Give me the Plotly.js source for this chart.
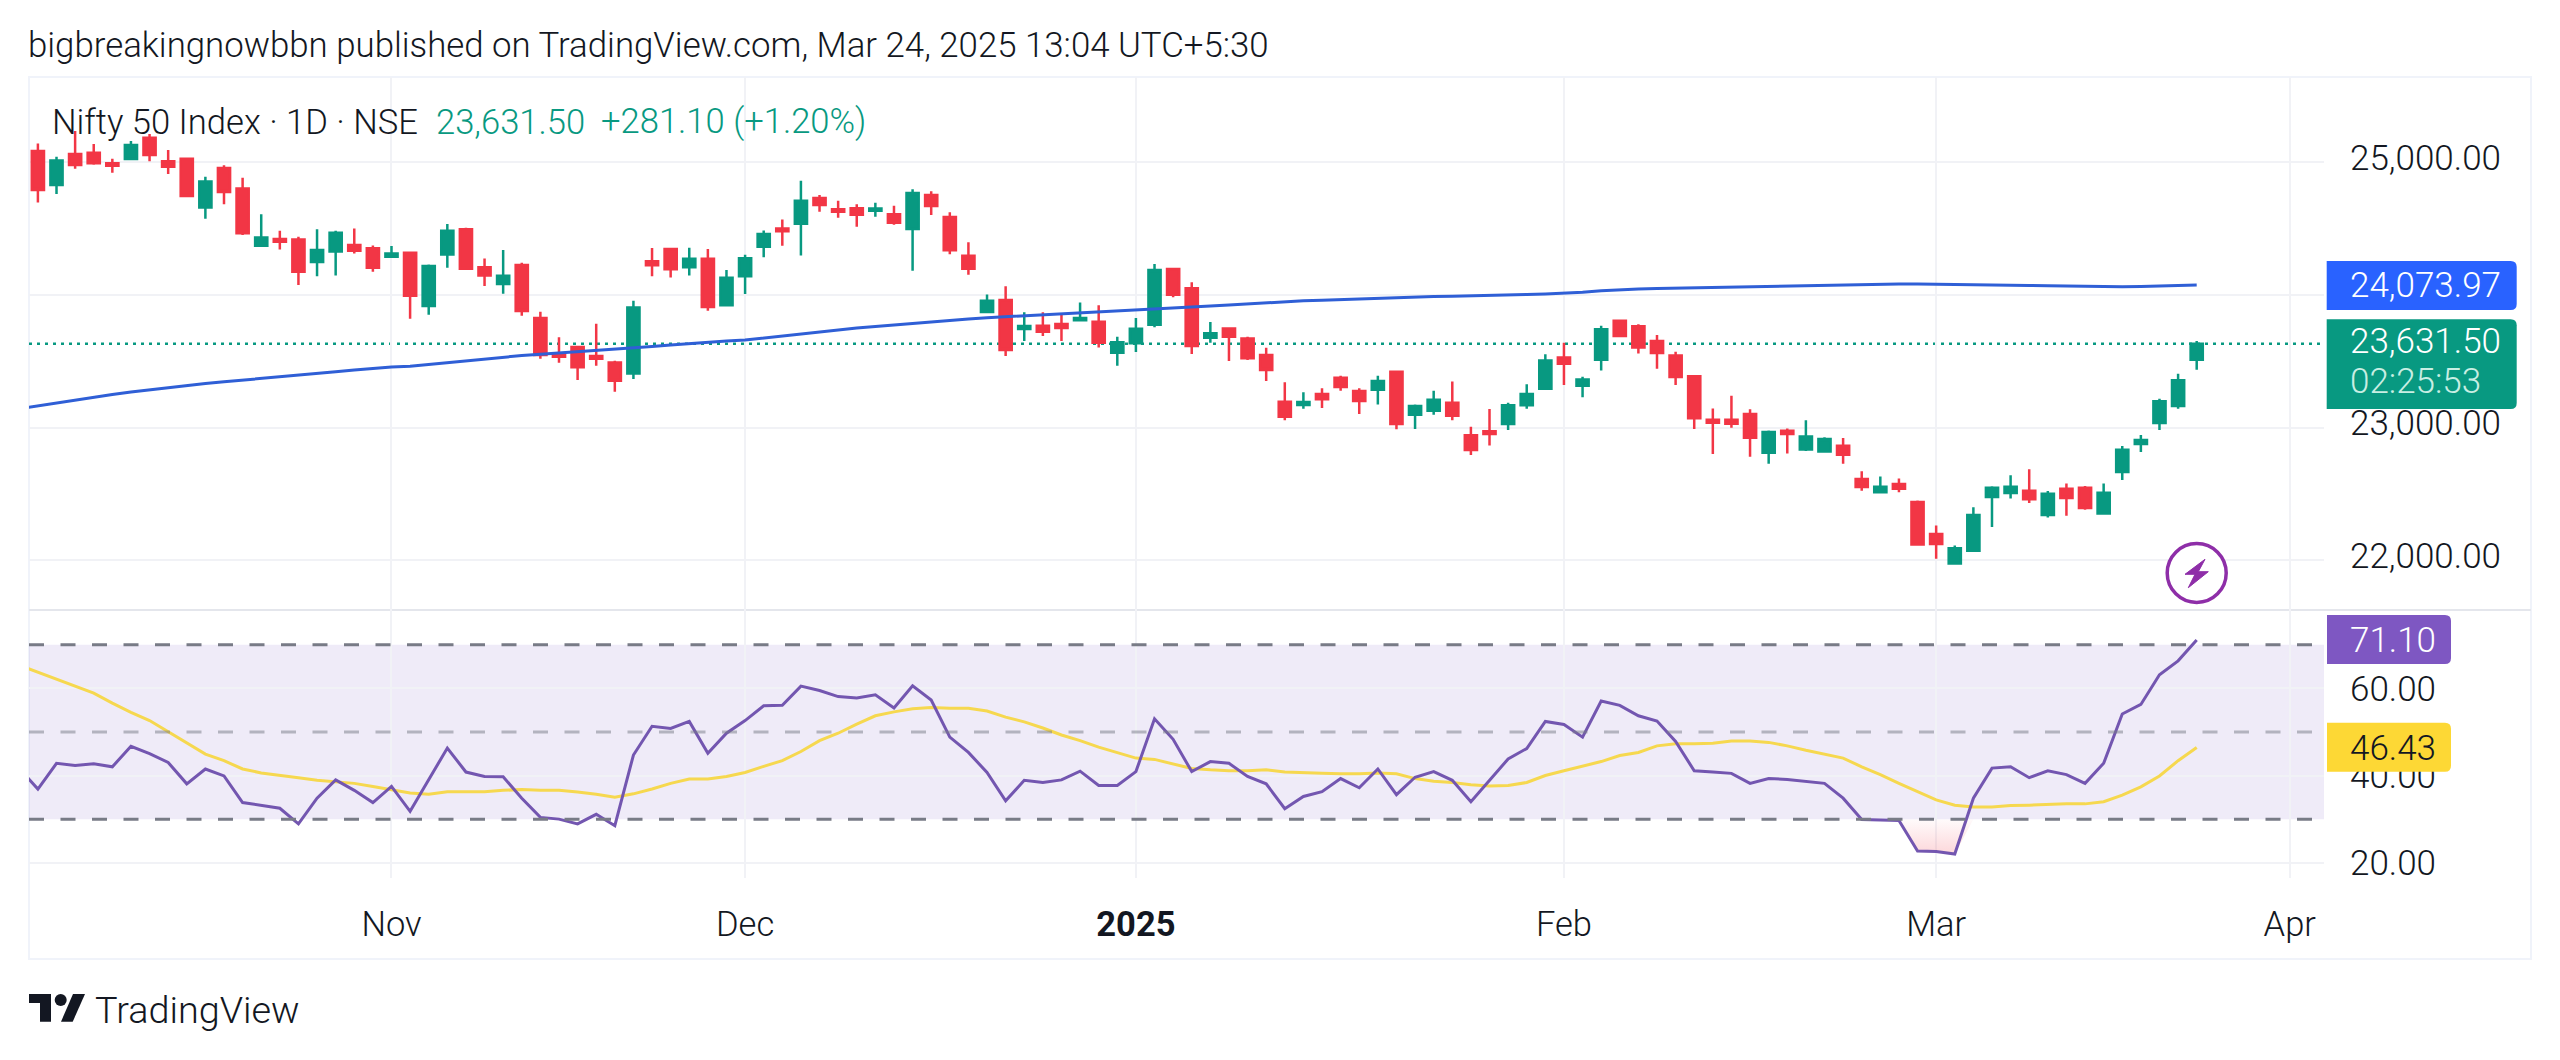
<!DOCTYPE html>
<html>
<head>
<meta charset="utf-8">
<script src="https://cdn.plot.ly/plotly-3.0.1.min.js"></script>
<style>html,body{margin:0;padding:0;background:#fff}#chart{width:2560px;height:1060px}</style>
</head>
<body>
<div id="chart"></div>
<script>
// ---- Data (one value per daily candle) ----
const openVals = [25083,24827,25060,25070,24990,25022,25183,25005,25025,24658,24955,24801,24370,24420,24417,24247,24327,24375,24350,24287,24317,23915,24304,24493,24207,24081,24224,23825,23559,23607,23539,23491,23408,24252,24345,24207,24272,23921,24139,24362,24500,24536,24729,24644,24651,24633,24606,24495,24751,24586,24295,23870,23961,23742,23768,23780,23808,23798,23564,23635,23775,24194,24049,23677,23747,23672,23547,23195,23170,23253,23376,23276,23286,23421,23097,23127,23188,22942,22972,23027,23168,23293,23529,23316,23512,23805,23763,23652,23544,23386,23060,23060,23102,22811,22977,22836,22821,22864,22613,22513,22575,22440,22199,21978,22073,22477,22508,22525,22342,22540,22548,22354,22666,22876,23035,23163,23512];
const highVals = [25140,25040,25233,25135,25025,25158,25211,25090,25027,24889,24975,24882,24606,24483,24437,24493,24483,24500,24372,24367,24317,24229,24533,24505,24274,24337,24242,23873,23680,23609,23782,23504,23956,24352,24347,24355,24345,24187,24302,24485,24568,24859,24751,24709,24681,24694,24671,24794,24779,24621,24395,24003,24064,23868,23868,23860,23943,23921,23685,23825,24232,24194,24094,23795,23752,23685,23602,23341,23266,23296,23391,23296,23391,23426,23175,23278,23348,23007,23140,23188,23326,23552,23640,23384,23768,23810,23778,23697,23572,23386,23145,23240,23138,22979,22994,23055,22927,22922,22671,22633,22618,22452,22264,22113,22400,22558,22641,22686,22523,22580,22560,22580,22861,22944,23218,23406,23652];
const lowVals = [24696,24759,24950,24980,24919,25020,25005,24909,24734,24573,24681,24450,24367,24342,24074,24139,24146,24312,24174,24284,23820,23850,24204,24186,24066,24008,23843,23519,23489,23358,23466,23270,23366,24139,24131,24146,23880,23921,24006,24282,24370,24297,24626,24581,24513,24588,24528,24182,24601,24305,24152,23870,23539,23652,23690,23652,23805,23604,23466,23569,23755,23981,23554,23640,23501,23509,23351,23055,23143,23148,23278,23102,23175,22987,22989,23097,23055,22794,22866,22982,23143,23288,23321,23228,23431,23685,23559,23444,23321,22989,22801,23000,22781,22728,22806,22824,22816,22728,22525,22513,22513,22113,22013,21970,22073,22252,22467,22432,22324,22337,22382,22352,22605,22816,22982,23143,23436];
const closeVals = [24789,25012,24977,24990,24972,25128,25052,24965,24744,24854,24774,24463,24432,24400,24174,24337,24468,24332,24204,24312,23993,24217,24483,24197,24146,24144,23878,23546,23534,23454,23519,23353,23905,24222,24192,24272,23908,24129,24275,24458,24478,24709,24676,24626,24603,24649,24543,24767,24669,24335,24197,23956,23584,23765,23722,23750,23825,23640,23642,23745,24187,24001,23614,23710,23685,23522,23434,23082,23193,23213,23306,23200,23351,23027,23163,23210,23090,22831,22952,23168,23253,23506,23481,23363,23740,23690,23604,23562,23381,23070,23037,23030,22924,22967,22952,22934,22914,22796,22553,22555,22540,22121,22123,22091,22342,22548,22555,22460,22503,22470,22395,22510,22834,22907,23198,23356,23631.5];
// Moving average over price (first value sits one bar left of the first candle)
const maVals = [23143,23165,23187,23209,23230,23250,23268,23285,23303,23318,23333,23345,23357,23369,23380,23394,23408,23421,23434,23446,23456,23463,23477,23491,23505,23518,23531,23543,23553,23562,23572,23581,23590,23598,23610,23622,23633,23645,23652,23660,23675,23690,23705,23722,23738,23750,23762,23774,23786,23798,23808,23818,23828,23835,23842,23850,23856,23862,23870,23876,23885,23892,23900,23906,23915,23924,23932,23941,23950,23955,23960,23965,23970,23975,23982,23985,23988,23990,23992,23994,23996,24002,24007,24012,24020,24030,24038,24043,24047,24050,24052,24054,24055,24057,24060,24064,24068,24071,24074,24076,24079,24081,24081,24080,24079,24077,24075,24072,24070,24068,24065,24063,24061,24061,24063,24066,24070,24074];
// RSI and its moving average (same alignment as maVals)
const rsiVals = [41.6,36.9,42.8,42.3,42.7,42.0,46.7,45.0,43.0,38.1,41.5,39.9,33.8,33.2,32.5,28.9,34.8,39.0,36.6,33.8,37.5,31.8,39.0,46.3,40.8,39.8,39.7,34.8,30.4,30.0,28.9,31.1,28.5,44.7,51.3,50.8,52.4,45.1,49.7,52.6,56.0,56.1,60.5,59.5,58.1,57.8,58.5,55.5,60.6,57.3,48.8,45.3,40.7,34.2,38.9,38.4,39.0,41.0,37.7,37.7,40.9,53.0,48.3,40.9,43.2,42.8,39.8,38.1,32.4,35.2,36.3,39.3,37.2,41.5,35.6,39.6,40.9,38.9,34.0,39.0,43.8,46.2,52.4,51.7,48.8,57.1,56.1,53.7,52.5,47.8,41.1,40.8,40.5,38.2,39.3,39.1,38.7,38.2,34.8,29.9,29.8,29.7,22.7,22.6,22.0,34.8,41.7,42.0,39.5,41.1,40.2,38.2,42.8,54.1,56.3,63.1,66.3,71.1];
const rsiMaVals = [65.3,63.7,62.1,60.5,58.9,56.6,54.5,52.6,50.1,47.4,44.9,43.4,41.5,40.6,40.1,39.5,38.9,38.5,38.2,37.5,36.8,36.0,35.7,36.3,36.3,36.3,36.6,36.8,36.6,36.6,36.2,35.7,35.0,35.8,36.9,38.2,39.2,39.2,39.8,40.7,42.1,43.4,45.5,48.0,49.7,51.8,53.7,54.6,55.3,55.6,55.4,55.4,54.8,53.4,52.3,50.9,49.3,48.0,46.5,45.2,44.0,43.7,42.6,41.6,41.3,41.1,41.1,41.3,40.8,40.6,40.5,40.4,40.4,40.6,40.4,39.3,38.7,38.4,37.9,37.6,37.7,38.4,40.0,41.1,42.2,43.2,44.6,45.3,46.8,47.3,47.3,47.4,47.9,47.9,47.6,46.8,45.8,44.9,44.0,42.0,40.2,38.2,36.3,34.4,33.2,32.8,32.8,33.1,33.2,33.4,33.5,33.5,34.0,35.5,37.4,39.9,43.4,46.43];
// Axis labels
const monthTickPos = [19,38,59,82,102,121];
const monthTickText = ['Nov','Dec','<b>2025</b>','Feb','Mar','Apr'];
const priceTicks = [22000,23000,25000];
const priceTickText = ['22,000.00','23,000.00','25,000.00'];
const rsiTicks = [20,40,60];
const rsiTickText = ['20.00','40.00','60.00'];
const lastPrice = 23631.5;
const headerText = 'bigbreakingnowbbn published on TradingView.com, Mar 24, 2025 13:04 UTC+5:30';
const symbolText = 'Nifty 50 Index · 1D · NSE';

// ---- Layout helpers (page pixels to paper fractions) ----
const W = 2560, H = 1060;
const X = x => x / W, Y = y => 1 - y / H;
const FONT = 'Roboto, sans-serif';
const TXT = '#131722', GREEN = '#089981', RED = '#f23645';
const candleX = openVals.map((_, i) => i);
const lineX = maVals.map((_, i) => i - 1);
const xRange = [-0.478, 122.84];
const priceRange = [21627, 25640];
const rsiRange = [16.5, 77.96];
const labelShift = 34; // price labels sit slightly above their grid lines

function poly(pts) {
  return 'M' + pts.map(p => X(p[0]) + ',' + Y(p[1])).join('L') + 'Z';
}
function pill(x0, y0, x1, y1, color) {
  const r = 6;
  const path = 'M' + X(x0) + ',' + Y(y0) + 'L' + X(x1 - r) + ',' + Y(y0) +
    'Q' + X(x1) + ',' + Y(y0) + ' ' + X(x1) + ',' + Y(y0 + r) +
    'L' + X(x1) + ',' + Y(y1 - r) +
    'Q' + X(x1) + ',' + Y(y1) + ' ' + X(x1 - r) + ',' + Y(y1) +
    'L' + X(x0) + ',' + Y(y1) + 'Z';
  return {type: 'path', xref: 'paper', yref: 'paper', path, fillcolor: color, line: {width: 0}, layer: 'above'};
}
function label(x, y, text, color, size, anchor) {
  return {xref: 'paper', yref: 'paper', x: X(x), y: Y(y), text, showarrow: false, xanchor: anchor || 'left', yanchor: 'middle',
    align: 'left', borderpad: 0,
    font: {family: FONT, size: size || 35, color: color || TXT, weight: 300}};
}
function paperRect(x0, y0, x1, y1, color, width) {
  return {type: 'rect', xref: 'paper', yref: 'paper', x0: X(x0), x1: X(x1), y0: Y(y0), y1: Y(y1),
    line: {color, width}, fillcolor: 'rgba(0,0,0,0)', layer: 'below'};
}

// Pink fill where RSI falls under the 30 level
const osIdx = [99, 100, 101, 102, 103, 104, 105];
const osX = [98].concat(osIdx.map(i => i - 1)).concat([103.7, 98]);
const osY = [30].concat(osIdx.map(i => Math.min(rsiVals[i], 30))).concat([30, 30]);

const traces = [
  {type: 'scatter', mode: 'lines', x: osX, y: osY, xaxis: 'x2', yaxis: 'y2', fill: 'toself', line: {width: 0},
   fillgradient: {type: 'vertical', start: 21, stop: 30, colorscale: [[0, 'rgba(242,54,69,0.22)'], [1, 'rgba(242,54,69,0.02)']]},
   hoverinfo: 'skip', showlegend: false},
  {type: 'scatter', mode: 'lines', x: lineX, y: maVals, xaxis: 'x', yaxis: 'y', line: {color: '#2f5fd6', width: 3}, hoverinfo: 'skip', showlegend: false},
  {type: 'candlestick', x: candleX, open: openVals, high: highVals, low: lowVals, close: closeVals, xaxis: 'x', yaxis: 'y',
   increasing: {line: {color: GREEN, width: 2.5}, fillcolor: GREEN},
   decreasing: {line: {color: RED, width: 2.5}, fillcolor: RED},
   whiskerwidth: 0, hoverinfo: 'skip', showlegend: false},
  {type: 'scatter', mode: 'lines', x: lineX, y: rsiMaVals, xaxis: 'x2', yaxis: 'y2', line: {color: '#f6d84f', width: 3}, hoverinfo: 'skip', showlegend: false},
  {type: 'scatter', mode: 'lines', x: lineX, y: rsiVals, xaxis: 'x2', yaxis: 'y2', line: {color: '#7356b0', width: 3}, hoverinfo: 'skip', showlegend: false},
  // Carries the overlaid axis that draws the price labels; draws nothing itself
  {type: 'scatter', mode: 'lines', x: [candleX[0], candleX[1]], y: [lastPrice, lastPrice], xaxis: 'x', yaxis: 'y3', opacity: 0, line: {width: 0}, hoverinfo: 'skip', showlegend: false}
];

const gridC = '#f1f2f6';
const axisFont = {family: FONT, size: 35, color: TXT, weight: 300};
const xFont = {family: FONT, size: 34.5, color: TXT, weight: 300};
const xDomain = [X(29), X(2324)];

const shapes = [
  paperRect(29, 77, 2531, 959, '#f0f3fa', 2),
  {type: 'line', xref: 'paper', yref: 'paper', x0: X(29), x1: X(2531), y0: Y(610), y1: Y(610), line: {color: '#e4e6ec', width: 2}, layer: 'below'},
  {type: 'rect', xref: 'x2', yref: 'y2', x0: xRange[0], x1: xRange[1], y0: 30, y1: 70, fillcolor: 'rgba(126,87,194,0.12)', line: {width: 0}, layer: 'below'},
  {type: 'line', xref: 'x2', yref: 'y2', x0: xRange[0], x1: xRange[1], y0: 70, y1: 70, line: {color: '#787b86', width: 3, dash: '15px,16.5px'}, layer: 'above'},
  {type: 'line', xref: 'x2', yref: 'y2', x0: xRange[0], x1: xRange[1], y0: 50, y1: 50, line: {color: 'rgba(120,123,134,0.5)', width: 3, dash: '15px,16.5px'}, layer: 'above'},
  {type: 'line', xref: 'x2', yref: 'y2', x0: xRange[0], x1: xRange[1], y0: 30, y1: 30, line: {color: '#787b86', width: 3, dash: '15px,16.5px'}, layer: 'above'},
  {type: 'line', xref: 'x', yref: 'y', x0: xRange[0], x1: xRange[1], y0: lastPrice, y1: lastPrice, line: {color: GREEN, width: 2.5, dash: '3px,5px'}, layer: 'below'},
  pill(2326.7, 261, 2516.7, 310, '#2962ff'),
  pill(2326.7, 319.3, 2516.7, 409, GREEN),
  pill(2327, 615, 2451, 664, '#7e57c2'),
  pill(2327, 722.7, 2451, 771.7, '#fdd835'),
  // Lightning badge above the last candle
  {type: 'circle', xref: 'paper', yref: 'paper', x0: X(2167.2), x1: X(2226.2), y0: Y(543.5), y1: Y(602.5), line: {color: '#8e2ea8', width: 3.5}, fillcolor: '#ffffff', layer: 'above'},
  {type: 'path', xref: 'paper', yref: 'paper', path: poly([[2205, 559.3], [2185, 574.3], [2195, 574.3], [2188.3, 587.7], [2208.3, 571.7], [2198.3, 571.7]]), fillcolor: '#8e2ea8', line: {color: '#8e2ea8', width: 1}, layer: 'above'},
  // TradingView mark
  {type: 'path', xref: 'paper', yref: 'paper', path: poly([[29, 994], [51, 994], [51, 1021.7], [40, 1021.7], [40, 1003], [29, 1003]]), fillcolor: '#131722', line: {width: 0}, layer: 'above'},
  {type: 'circle', xref: 'paper', yref: 'paper', x0: X(54.7), x1: X(66.7), y0: Y(994), y1: Y(1006), fillcolor: '#131722', line: {width: 0}, layer: 'above'},
  {type: 'path', xref: 'paper', yref: 'paper', path: poly([[73, 994], [85, 994], [72.7, 1021.7], [61, 1021.7]]), fillcolor: '#131722', line: {width: 0}, layer: 'above'}
];

const annotations = [
  label(27, 45, headerText, TXT, 34.8),
  label(51, 122, symbolText, TXT, 34.6),
  label(435, 122, '23,631.50', GREEN, 34.6),
  label(600, 122, '+281.10 (+1.20%)', GREEN, 34.6),
  label(2349, 285, '24,073.97', '#ffffff'),
  label(2349, 341.5, '23,631.50', '#ffffff'),
  label(2349, 381.5, '02:25:53', '#c8eee3'),
  label(2349, 640.5, '71.10', '#ffffff'),
  label(2349, 748, '46.43', '#131722'),
  label(94, 1010, 'TradingView', TXT, 37.8)
];

const layout = {
  width: W, height: H, autosize: false,
  margin: {l: 0, r: 0, t: 0, b: 0},
  paper_bgcolor: '#ffffff', plot_bgcolor: 'rgba(0,0,0,0)',
  showlegend: false, boxgap: 0.345, boxgroupgap: 0, dragmode: false,
  xaxis: {domain: xDomain, range: xRange, anchor: 'y', type: 'linear', rangeslider: {visible: false},
          tickmode: 'array', tickvals: monthTickPos, showticklabels: false, ticks: '', showgrid: true, gridcolor: gridC, gridwidth: 2, zeroline: false, showline: false},
  xaxis2: {domain: xDomain, range: xRange, anchor: 'y2', type: 'linear',
           tickmode: 'array', tickvals: monthTickPos, ticktext: monthTickText, ticks: '', ticklabelstandoff: 22,
           tickfont: xFont, showgrid: true, gridcolor: gridC, gridwidth: 2, zeroline: false, showline: false},
  yaxis: {domain: [Y(610), Y(77)], range: priceRange, anchor: 'x', side: 'right', tickmode: 'array', tickvals: [22000, 23000, 24000, 25000],
          showticklabels: false, ticks: '', showgrid: true, gridcolor: gridC, gridwidth: 2, zeroline: false, showline: false},
  yaxis3: {domain: [Y(610), Y(77)], range: [priceRange[0] - labelShift, priceRange[1] - labelShift], anchor: 'x', overlaying: 'y', side: 'right',
           tickmode: 'array', tickvals: priceTicks, ticktext: priceTickText, ticks: '', ticklabelstandoff: 25, tickfont: axisFont,
           showgrid: false, zeroline: false, showline: false},
  yaxis2: {domain: [Y(878), Y(610)], range: rsiRange, anchor: 'x2', side: 'right', tickmode: 'array', tickvals: rsiTicks, ticktext: rsiTickText,
           ticks: '', ticklabelstandoff: 25, tickfont: axisFont, showgrid: true, gridcolor: gridC, gridwidth: 2, zeroline: false, showline: false},
  shapes, annotations
};

Plotly.newPlot('chart', traces, layout, {displayModeBar: false, staticPlot: true});
</script>
</body>
</html>
